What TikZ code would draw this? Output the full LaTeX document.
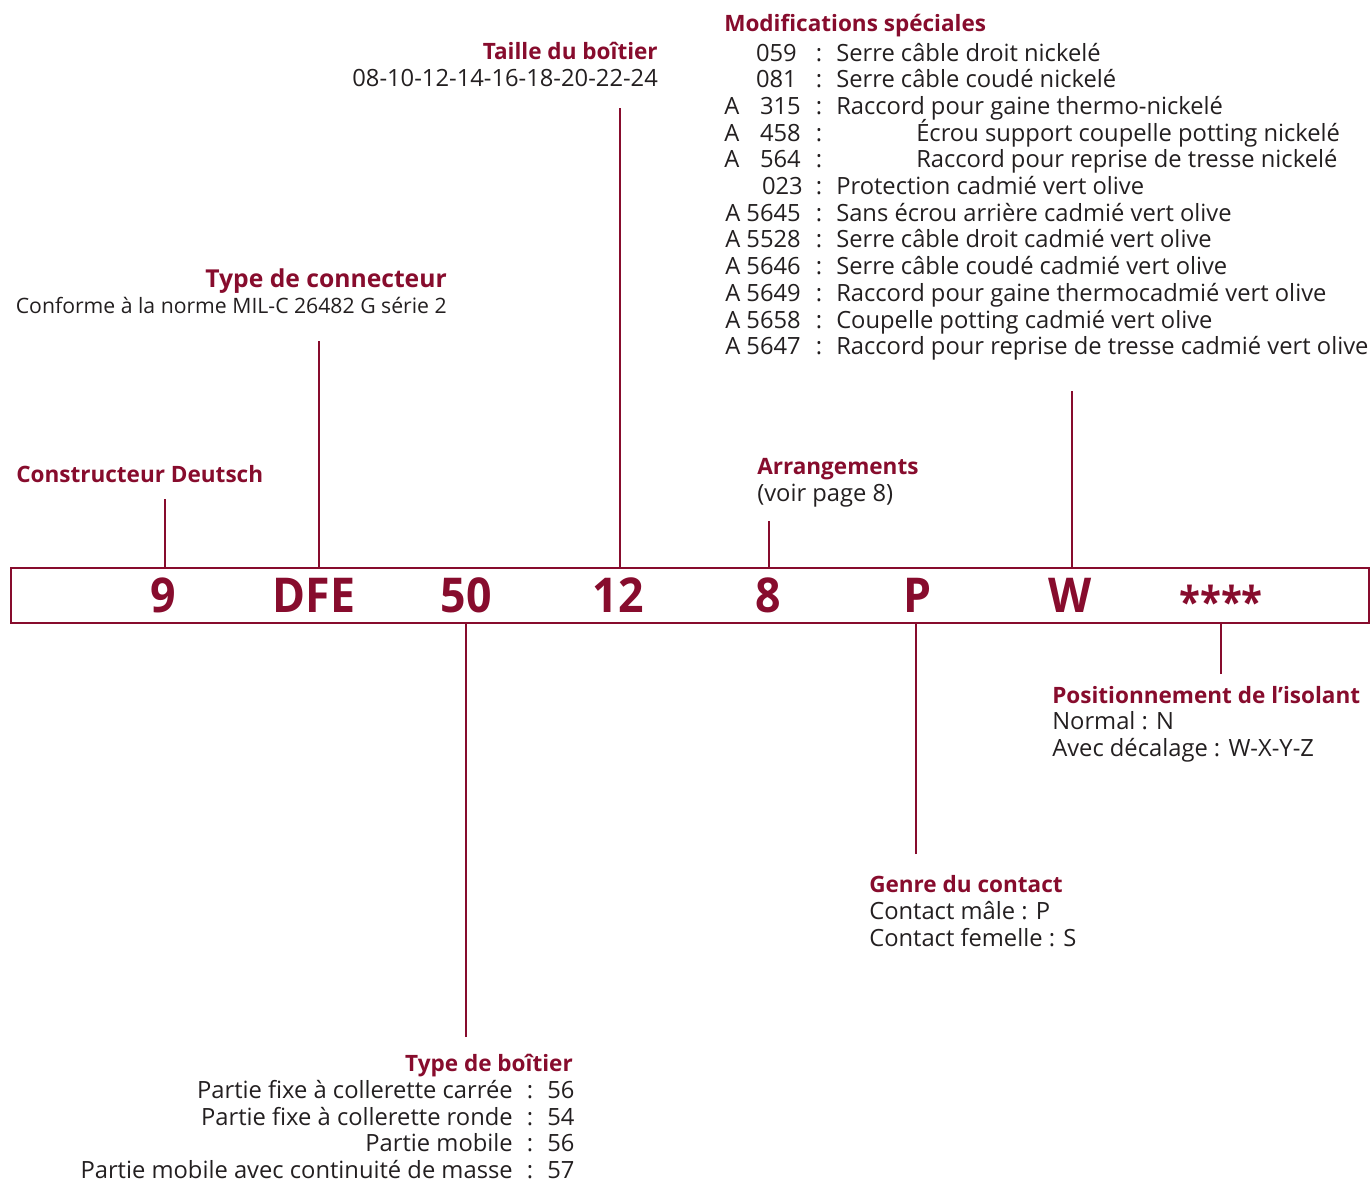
\documentclass[tikz,border=0pt]{standalone}
\usepackage{fontspec}
\setmainfont{Open Sans}
\definecolor{dred}{RGB}{135,12,45}
\definecolor{ink}{RGB}{35,31,32}
\tikzset{
  body/.style={font=\fontsize{17.8}{20}\selectfont, text=ink, inner sep=0pt},
  small/.style={font=\fontsize{15.9}{18}\selectfont, text=ink, inner sep=0pt},
  head/.style={font=\fontsize{16.9}{20}\selectfont\bfseries, text=dred, inner sep=0pt},
  bighead/.style={font=\fontsize{18.5}{20}\selectfont\bfseries, text=dred, inner sep=0pt},
  codebox/.style={font=\fontsize{36}{40}\selectfont\bfseries, text=dred, inner sep=0pt, anchor=base},
  guide/.style={draw=dred, line width=1.5pt},
}
\newcommand\modline[7]{%
  \node[body, anchor=base west] (#1a) at (724,#2) {#3};
  \node[body, anchor=base east] (#1n) at (#5,#2) {#4};
  \node[body, anchor=base] (#1c) at (819,#2) {:};
  \node[body, anchor=base west] (#1d) at (#6,#2) {#7};
}
\newcommand\botline[4]{%
  \node[body, anchor=base east] (#1l) at (513,#2) {#3};
  \node[body, anchor=base] (#1c) at (530,#2) {:};
  \node[body, anchor=base west] (#1n) at (547,#2) {#4};
}
\newcommand\cnd[1]{\scalebox{0.93}[1]{#1}}
\begin{document}
\begin{tikzpicture}[x=0.75pt, y=-0.75pt]
\useasboundingbox (0,0) rectangle (1372,1183);
% bar
\node[draw=dred, line width=1.5pt, minimum width=1358*0.75pt, minimum height=55*0.75pt, inner sep=0pt, anchor=north west] (bar) at (10,567) {};
% code letters
\node[codebox] (c9) at (163,612) {\cnd{9}};
\node[codebox] (cdfe) at (314,612) {\cnd{DFE}};
\node[codebox] (c50) at (466,612) {\cnd{50}};
\node[codebox] (c12) at (618,612) {\cnd{12}};
\node[codebox] (c8) at (768,612) {\cnd{8}};
\node[codebox] (cp) at (918,612) {\cnd{P}};
\node[codebox] (cw) at (1070,612) {\cnd{W}};
\node[codebox, font=\fontsize{32}{36}\selectfont\bfseries] (cst) at (1221,617) {\scalebox{0.9}[1]{****}};
% labels top
\node[head, anchor=base west] (constr) at (16,482) {Constructeur Deutsch};
\node[bighead, anchor=base east] (typcon) at (447,287) {Type de connecteur};
\node[small, anchor=base east] (conf) at (447,313) {Conforme à la norme MIL-C 26482 G série 2};
\node[head, anchor=base east] (taille) at (658,59) {Taille du boîtier};
\node[body, anchor=base east] (tailles) at (658,86) {08-10-12-14-16-18-20-22-24};
\node[head, anchor=base west] (arr) at (757,474) {Arrangements};
\node[body, anchor=base west] (arrv) at (757,501) {(voir page 8)};
\node[head, anchor=base west] (modif) at (724,31) {Modifications spéciales};
\modline{m1}{61}{}{059}{797}{836}{Serre câble droit nickelé}
\modline{m2}{87.7}{}{081}{797}{836}{Serre câble coudé nickelé}
\modline{m3}{114.4}{A}{315}{801}{836}{Raccord pour gaine thermo-nickelé}
\modline{m4}{141.1}{A}{458}{801}{916}{Écrou support coupelle potting nickelé}
\modline{m5}{167.8}{A}{564}{801}{916}{Raccord pour reprise de tresse nickelé}
\modline{m6}{194.5}{}{023}{803}{836}{Protection cadmié vert olive}
\modline{m7}{221.2}{}{A 5645}{801}{836}{Sans écrou arrière cadmié vert olive}
\modline{m8}{247.9}{}{A 5528}{801}{836}{Serre câble droit cadmié vert olive}
\modline{m9}{274.6}{}{A 5646}{801}{836}{Serre câble coudé cadmié vert olive}
\modline{m10}{301.3}{}{A 5649}{801}{836}{Raccord pour gaine thermocadmié vert olive}
\modline{m11}{328}{}{A 5658}{801}{836}{Coupelle potting cadmié vert olive}
\modline{m12}{354.7}{}{A 5647}{801}{836}{Raccord pour reprise de tresse cadmié vert olive}
% labels bottom
\node[head, anchor=base west] (posit) at (1052,703) {Positionnement de l’isolant};
\node[body, anchor=base west] (posn) at (1052,729) {Normal : N};
\node[body, anchor=base west] (posd) at (1052,756) {Avec décalage : W-X-Y-Z};
\node[head, anchor=base west] (genre) at (869,892) {Genre du contact};
\node[body, anchor=base west] (genm) at (869,919) {Contact mâle : P};
\node[body, anchor=base west] (genf) at (869,946) {Contact femelle : S};
\node[head, anchor=base east] (typb) at (573,1071) {Type de boîtier};
\botline{b1}{1098}{Partie fixe à collerette carrée}{56}
\botline{b2}{1125}{Partie fixe à collerette ronde}{54}
\botline{b3}{1151}{Partie mobile}{56}
\botline{b4}{1178}{Partie mobile avec continuité de masse}{57}
% guide lines
\coordinate (g9) at (165,499);
\coordinate (gdfe) at (319,341);
\coordinate (g12) at (620,108);
\coordinate (g8) at (769,521);
\coordinate (gw) at (1072,391);
\coordinate (g50) at (466,1037);
\coordinate (gp) at (916,854);
\coordinate (gst) at (1221,674);
\draw[guide] (g9) -- (g9 |- bar.north);
\draw[guide] (gdfe) -- (gdfe |- bar.north);
\draw[guide] (g12) -- (g12 |- bar.north);
\draw[guide] (g8) -- (g8 |- bar.north);
\draw[guide] (gw) -- (gw |- bar.north);
\draw[guide] (g50) -- (g50 |- bar.south);
\draw[guide] (gp) -- (gp |- bar.south);
\draw[guide] (gst) -- (gst |- bar.south);
\end{tikzpicture}
\end{document}
